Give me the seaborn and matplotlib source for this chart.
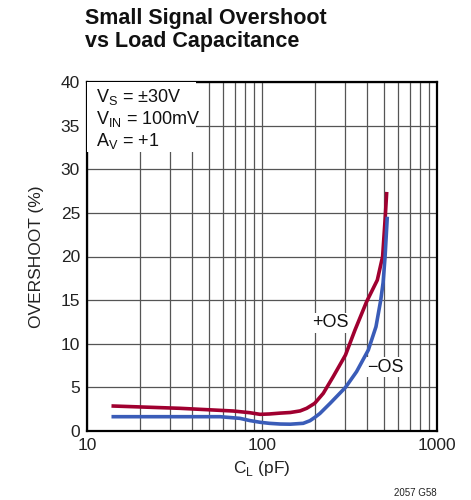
import numpy as np
import pandas as pd
import matplotlib
matplotlib.use("Agg")
import matplotlib.pyplot as plt
import seaborn as sns

# Data
pos_cl = [13.8, 34, 68.6, 85, 97.5, 110, 127, 145, 165, 180, 200, 224, 255, 300, 340, 396, 456, 489, 505, 516]
pos_os = [2.87, 2.6, 2.29, 2.1, 1.91, 1.95, 2.05, 2.12, 2.3, 2.6, 3.17, 4.32, 6.22, 8.71, 11.58, 14.82, 17.3, 20.0, 24.2, 27.4]
neg_cl = [13.8, 57.5, 74.8, 85, 97.5, 110, 127, 145, 172, 188, 200, 214, 245, 300, 347, 405, 448, 477, 492, 505, 520]
neg_os = [1.64, 1.64, 1.45, 1.2, 1.0, 0.88, 0.8, 0.78, 0.88, 1.18, 1.55, 2.0, 3.17, 5.0, 6.8, 9.28, 11.95, 15.0, 17.0, 20.0, 24.56]

x_ticks = [10, 100, 1000]
y_ticks = [0, 5, 10, 15, 20, 25, 30, 35, 40]

sns.set_theme(style="white")
fams = ["Liberation Sans Narrow", "Liberation Sans", "DejaVu Sans"]
plt.rcParams["font.family"] = fams
plt.rcParams["mathtext.fontset"] = "custom"
plt.rcParams["mathtext.rm"] = "Liberation Sans"

df = pd.concat([
    pd.DataFrame({"cl": pos_cl, "os": pos_os, "s": "+OS"}),
    pd.DataFrame({"cl": neg_cl, "os": neg_os, "s": "-OS"}),
])

fig = plt.figure(figsize=(4.71, 5.0), dpi=100)
ax = fig.add_axes([87/471, 1-431/500, 350/471, 349/500])

sns.lineplot(data=df, x="cl", y="os", hue="s", palette={"+OS": "#A00030", "-OS": "#3A5CB8"},
             linewidth=2.6, legend=False, ax=ax, sort=False, estimator=None, zorder=5)
for ln in ax.get_lines():
    ln.set_solid_joinstyle("round")
    ln.set_solid_capstyle("butt")

ax.set_xscale("log")
ax.set_xlim(10, 1000)
ax.set_ylim(0, 40)
ax.set_xticks(x_ticks)
ax.set_xticklabels([str(v) for v in x_ticks])
ax.set_yticks(y_ticks)
ax.set_yticklabels([str(v) for v in y_ticks])
ax.xaxis.set_minor_locator(matplotlib.ticker.LogLocator(base=10, subs=np.arange(2, 10)))
ax.xaxis.set_minor_formatter(matplotlib.ticker.NullFormatter())
ax.grid(True, which="both", axis="x", color="#555555", linewidth=0.9)
ax.grid(True, which="major", axis="y", color="#555555", linewidth=0.9)
ax.tick_params(axis="both", which="both", length=0, labelsize=12.5, colors="#222222", pad=5)
for sp in ax.spines.values():
    sp.set_color("black")
    sp.set_linewidth(1.6)
ax.set_axisbelow(True)

ax.set_xlabel(r"C$_\mathregular{L}$ (pF)", fontsize=12.5, color="#222222", labelpad=4)
ax.set_ylabel("OVERSHOOT (%)", fontsize=12.5, color="#222222", labelpad=12)

# condition box
ax.add_patch(plt.Rectangle((0, 0.80), 0.31, 0.20, transform=ax.transAxes, facecolor="white",
                           edgecolor="none", zorder=3))
cond = [r"V$_\mathregular{S}$ = ±30V", r"V$_\mathregular{IN}$ = 100mV", r"A$_\mathregular{V}$ = +1"]
for i, t in enumerate(cond):
    ax.text(0.025, 0.985 - i*0.062, t, transform=ax.transAxes, fontsize=13, va="top", ha="left",
            color="#111111", zorder=4)

ax.text(245, 12.4, "+OS", fontsize=13, ha="center", va="center", color="#111111", zorder=4,
        bbox=dict(facecolor="white", edgecolor="none", pad=1.0))
ax.text(505, 7.3, "−OS", fontsize=13, ha="center", va="center", color="#111111", zorder=4,
        bbox=dict(facecolor="white", edgecolor="none", pad=1.0))

fig.text(85/471, 1-8/500, "Small Signal Overshoot\nvs Load Capacitance", fontsize=15.5,
         fontweight="bold", ha="left", va="top", linespacing=1.15, color="#111111")
fig.text(437/471, 1-493/500, "2057 G58", fontsize=7, ha="right", va="center", color="#222222")

fig.savefig("out.png", dpi=100)
